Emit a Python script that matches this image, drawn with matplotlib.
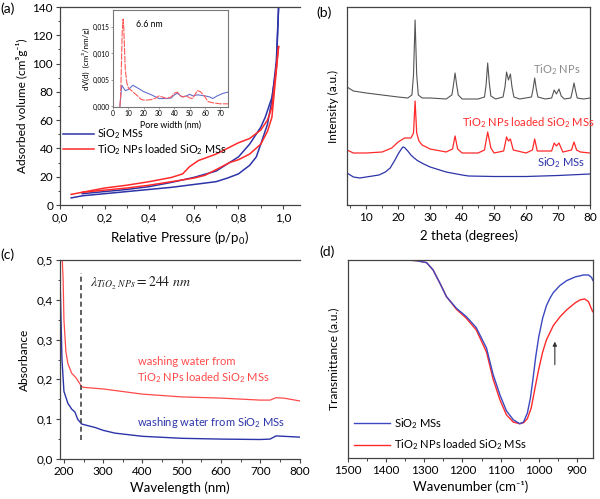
import matplotlib
matplotlib.use("Agg")
import matplotlib.pyplot as plt
from matplotlib.ticker import MultipleLocator, FuncFormatter

plt.rcParams['font.family'] = ['Lato', 'DejaVu Sans']
plt.rcParams['mathtext.fontset'] = 'custom'
plt.rcParams['mathtext.rm'] = 'Lato'
plt.rcParams['mathtext.it'] = 'Lato:italic'
plt.rcParams['mathtext.bf'] = 'Lato:bold'

# ---------------- data (a) ----------------
a_blue_ads_p = [0.05, 0.1, 0.2, 0.3, 0.4, 0.5, 0.6, 0.7, 0.75, 0.8, 0.85, 0.88, 0.9, 0.93, 0.95, 0.97, 0.98]
a_blue_ads_v = [5, 6.5, 8, 9.5, 11, 12.5, 14.5, 16.5, 19, 22, 28, 34, 43, 57, 74, 102, 140]
a_blue_des_p = [0.1, 0.2, 0.3, 0.4, 0.5, 0.6, 0.7, 0.8, 0.85, 0.9, 0.92, 0.95, 0.97, 0.98]
a_blue_des_v = [8, 9.5, 11, 13, 16, 19.5, 24, 34, 43, 55, 62, 76, 97, 140]
a_red_des_p = [0.05, 0.2, 0.3, 0.4, 0.5, 0.55, 0.58, 0.62, 0.7, 0.8, 0.85, 0.9, 0.93, 0.95, 0.965, 0.975, 0.98]
a_red_des_v = [7.5, 12, 14, 16.5, 19.5, 22, 27, 31.4, 36, 44, 47, 53, 60, 69, 90, 105, 112]
a_red_ads_p = [0.1, 0.2, 0.3, 0.4, 0.5, 0.6, 0.65, 0.7, 0.76, 0.8, 0.85, 0.9, 0.93, 0.95, 0.97, 0.98]
a_red_ads_v = [9, 10.5, 12, 14, 16.5, 19, 21, 25, 30, 32, 36, 43, 52, 62, 95, 112]

ins_red_x = [4.5, 5, 5.5, 6, 6.6, 7, 7.5, 8, 9, 10, 12, 14, 16, 18, 20, 22, 25, 28, 30, 32, 35, 38, 40, 42, 44, 46, 48, 50, 52, 55, 57, 60, 62, 65, 70, 75]
ins_red_y = [0, 0.002, 0.008, 0.014, 0.0165, 0.015, 0.011, 0.007, 0.0045, 0.0035, 0.003, 0.0025, 0.002, 0.0014, 0.0012, 0.0012, 0.0013, 0.0016, 0.002, 0.0018, 0.0015, 0.0018, 0.0025, 0.0027, 0.002, 0.0018, 0.002, 0.0016, 0.0015, 0.003, 0.0028, 0.0018, 0.0009, 0.0007, 0.0005, 0.0005]
ins_blue_x = [4.5, 5.7, 8, 10, 13, 16, 20, 25, 30, 35, 38, 40, 42, 45, 48, 50, 52, 55, 60, 63, 65, 68, 72, 75]
ins_blue_y = [0, 0.004, 0.003, 0.0032, 0.004, 0.0035, 0.0028, 0.0022, 0.0015, 0.0015, 0.0016, 0.0022, 0.0025, 0.0018, 0.002, 0.0023, 0.002, 0.0022, 0.002, 0.0018, 0.0015, 0.002, 0.0025, 0.0027]

# ---------------- data (b) ----------------
b_tio2_x = [4, 6, 10, 15, 20, 23, 24.3, 24.8, 25.3, 25.8, 26.3, 27.5, 30, 35, 36.8, 37.3, 37.8, 38.3, 38.8, 40, 45, 47, 47.5, 48.0, 48.5, 49, 50.5, 52.8, 53.4, 53.9, 54.5, 55.1, 55.6, 56.2, 58, 61.7, 62.2, 62.7, 63.2, 63.7, 66, 68, 68.8, 69.5, 70.3, 71, 72, 74, 74.5, 75, 75.5, 76, 78, 80]
b_tio2_y = [118, 114, 112, 110, 108, 107, 110, 130, 185, 130, 110, 107, 107, 106, 110, 120, 132, 120, 110, 106, 106, 108, 120, 142, 122, 109, 106, 108, 118, 133, 125, 131, 118, 108, 106, 108, 116, 127, 116, 108, 106, 107, 115, 111, 116, 109, 106, 107, 114, 122, 114, 107, 106, 107]
b_load_x = [4, 6, 10, 15, 18, 20, 22, 24, 24.8, 25.3, 25.8, 26.5, 27.5, 30, 35, 37, 37.8, 38.6, 40, 45, 47, 48, 49, 50, 53, 53.9, 54.5, 55.1, 56, 60, 62, 62.7, 63.5, 68, 68.8, 69.5, 70.3, 71.5, 74.2, 75, 75.8, 77, 80]
b_load_y = [55, 52, 52, 53, 57, 63, 67, 67, 72, 104, 72, 64, 60, 56, 53, 56, 69, 56, 52, 52, 55, 73, 57, 52, 54, 68, 64, 66, 55, 52, 55, 66, 54, 54, 62, 59, 62, 53, 55, 63, 55, 53, 52]
b_sio2_x = [4, 6, 8, 10, 14, 16, 17.5, 19, 20, 21, 21.5, 22, 23, 24, 25, 26, 28, 30, 35, 40, 42, 50, 60, 70, 80]
b_sio2_y = [32, 28, 27, 28, 30, 33, 37, 45, 51, 56, 58, 57.5, 54, 50, 47, 44.5, 41, 38, 33, 30, 29, 28.5, 28.5, 29.5, 31]

# ---------------- data (c) ----------------
c_red_x = [195, 198, 200, 205, 210, 220, 230, 240, 245, 250, 300, 400, 500, 600, 700, 725, 740, 760, 800]
c_red_y = [0.52, 0.45, 0.35, 0.27, 0.24, 0.215, 0.205, 0.19, 0.182, 0.18, 0.176, 0.163, 0.156, 0.153, 0.148, 0.148, 0.154, 0.153, 0.146]
c_blue_x = [190, 195, 200, 210, 220, 228, 235, 245, 260, 280, 300, 330, 400, 500, 600, 700, 725, 740, 760, 800]
c_blue_y = [0.46, 0.25, 0.17, 0.14, 0.125, 0.118, 0.1, 0.088, 0.084, 0.079, 0.072, 0.065, 0.057, 0.052, 0.05, 0.049, 0.05, 0.058, 0.057, 0.055]
c_lambda = 244

# ---------------- data (d) ----------------
d_blue_x = [1346, 1320, 1294, 1277, 1259, 1242, 1216, 1190, 1164, 1137, 1120, 1102, 1085, 1067, 1050, 1040, 1030, 1022, 1015, 1008, 1000, 990, 980, 970, 962, 945, 927, 905, 883, 870, 862, 858]
d_blue_y = [595, 593, 587, 565, 525, 485, 450, 425, 392, 330, 252, 190, 142, 115, 103, 108, 135, 180, 240, 305, 365, 420, 458, 482, 497, 518, 533, 544, 550, 550, 543, 533]
d_red_x = [1346, 1320, 1294, 1277, 1259, 1242, 1216, 1190, 1164, 1137, 1120, 1102, 1085, 1067, 1050, 1040, 1030, 1020, 1010, 1000, 990, 980, 962, 944, 927, 905, 892, 880, 870, 859]
d_red_y = [595, 593, 587, 565, 525, 485, 447, 420, 385, 318, 238, 175, 130, 108, 103, 106, 118, 150, 210, 268, 318, 355, 398, 425, 445, 466, 475, 478, 470, 440]

BLUE = '#2c34a8'
RED = '#ff2a2a'
TICK_FS = 8.5
XLAB_FS = 9.5
YLAB_FS = 8.6

fig = plt.figure(figsize=(6.0, 4.99), dpi=100)

def comma(fmt):
    return FuncFormatter(lambda v, p: (fmt % v).replace('.', ','))

def style(ax, fs=TICK_FS):
    for s in ax.spines.values():
        s.set_color('#444444')
        s.set_linewidth(0.9)
    ax.tick_params(which='major', direction='out', length=3, width=0.8, labelsize=fs,
                   color='#444444', pad=2)
    ax.tick_params(which='minor', direction='out', length=1.8, width=0.7, color='#444444')

# ---------- (a) ----------
axa = fig.add_axes([60/600, 1-205/499, 240/600, 198/499])
axa.plot(a_blue_ads_p, a_blue_ads_v, color=BLUE, lw=1.1)
axa.plot(a_blue_des_p, a_blue_des_v, color=BLUE, lw=1.1, label='SiO$_2$ MSs')
axa.plot(a_red_ads_p, a_red_ads_v, color=RED, lw=1.1)
axa.plot(a_red_des_p, a_red_des_v, color=RED, lw=1.1, label='TiO$_2$ NPs loaded SiO$_2$ MSs')
axa.set_xlim(0, 1.076)
axa.set_ylim(0, 140)
axa.spines['right'].set_visible(False)
axa.xaxis.set_major_locator(MultipleLocator(0.2))
axa.xaxis.set_minor_locator(MultipleLocator(0.1))
axa.yaxis.set_major_locator(MultipleLocator(20))
axa.yaxis.set_minor_locator(MultipleLocator(10))
axa.xaxis.set_major_formatter(comma('%.1f'))
style(axa)
axa.tick_params(right=False)
axa.set_xlabel('Relative Pressure (p/p$_0$)', fontsize=XLAB_FS, labelpad=5)
axa.set_ylabel('Adsorbed volume (cm³g⁻¹)', fontsize=YLAB_FS, labelpad=3)
axa.legend(loc='upper left', bbox_to_anchor=(-0.015, 0.43), frameon=False, fontsize=7.8,
           handlelength=2.9, handletextpad=0.25, borderaxespad=0.2, labelspacing=0.05)

# inset
axi = fig.add_axes([113/600, 1-107/499, 115/600, 97/499])
axi.plot(ins_blue_x, ins_blue_y, color='#5560c8', lw=0.8, alpha=0.9)
axi.plot(ins_red_x, ins_red_y, color='#ff5a5a', lw=0.8, dashes=(6, 1.0))
axi.set_xlim(0, 75)
axi.set_ylim(-0.0001, 0.0182)
axi.xaxis.set_major_locator(MultipleLocator(10))
axi.yaxis.set_major_locator(MultipleLocator(0.005))
axi.yaxis.set_major_formatter(comma('%.3f'))
for s in axi.spines.values():
    s.set_color('#777777')
    s.set_linewidth(0.8)
axi.tick_params(direction='out', length=1.5, width=0.5, labelsize=4.8, pad=1, color='#777777')
axi.set_xlabel('Pore width (nm)', fontsize=6.3, labelpad=2)
axi.set_ylabel('dV(d)  (cm³/nm/g)', fontsize=5.8, labelpad=2)
axi.text(15, 0.0155, '6.6 nm', fontsize=6.3, va='center', ha='left')

# ---------- (b) ----------
axb = fig.add_axes([347/600, 1-205/499, 243/600, 198/499])
axb.plot(b_tio2_x, b_tio2_y, color='#555555', lw=0.8)
axb.plot(b_load_x, b_load_y, color=RED, lw=0.9)
axb.plot(b_sio2_x, b_sio2_y, color=BLUE, lw=0.9)
axb.set_xlim(4, 80)
axb.set_ylim(0, 198)
axb.set_yticks([])
axb.xaxis.set_major_locator(MultipleLocator(10))
axb.xaxis.set_minor_locator(MultipleLocator(5))
style(axb)
axb.set_xlabel('2 theta (degrees)', fontsize=XLAB_FS, labelpad=5)
axb.set_ylabel('Intensity (a.u.)', fontsize=YLAB_FS, labelpad=6)
axb.text(62.1, 135, 'TiO$_2$ NPs', color='#8a8a8a', fontsize=8, ha='left', va='center')
axb.text(39.9, 82, 'TiO$_2$ NPs loaded SiO$_2$ MSs', color=RED, fontsize=8, ha='left', va='center')
axb.text(63.4, 42, 'SiO$_2$ MSs', color=BLUE, fontsize=8, ha='left', va='center')

# ---------- (c) ----------
axc = fig.add_axes([60/600, 1-459/499, 239.5/600, 199/499])
axc.plot(c_red_x, c_red_y, color='#ff4a4a', lw=0.9)
axc.plot(c_blue_x, c_blue_y, color=BLUE, lw=1.0)
axc.plot([c_lambda, c_lambda], [0.048, 0.467], color='#444444', lw=1.2, ls=(0, (3, 2)))
axc.set_xlim(190, 800)
axc.set_ylim(0, 0.5)
axc.spines['right'].set_visible(False)
axc.xaxis.set_major_locator(MultipleLocator(100))
axc.xaxis.set_minor_locator(MultipleLocator(50))
axc.yaxis.set_major_locator(MultipleLocator(0.1))
axc.yaxis.set_minor_locator(MultipleLocator(0.05))
axc.yaxis.set_major_formatter(comma('%.1f'))
style(axc)
axc.tick_params(right=False)
axc.set_xlabel('Wavelength (nm)', fontsize=XLAB_FS, labelpad=3)
axc.set_ylabel('Absorbance', fontsize=YLAB_FS, labelpad=5)
axc.text(266, 0.442, r'$\lambda_{TiO_2\ NPs} = 244\ nm$', fontsize=10, math_fontfamily='stix',
         ha='left', va='center', color='#222222')
axc.text(389, 0.244, 'washing water from', color='#ff4a4a', fontsize=8, ha='left', va='center')
axc.text(387, 0.2035, 'TiO$_2$ NPs loaded SiO$_2$ MSs', color='#ff4a4a', fontsize=8, ha='left', va='center')
axc.text(387, 0.0905, 'washing water from SiO$_2$ MSs', color=BLUE, fontsize=8, ha='left', va='center')

# ---------- (d) ----------
axd = fig.add_axes([348/600, 1-458/499, 245/600, 198/499])
axd.plot(d_red_x, d_red_y, color=RED, lw=1.0, label='TiO$_2$ NPs loaded SiO$_2$ MSs')
axd.plot(d_blue_x, d_blue_y, color='#3b48c0', lw=1.0, label='SiO$_2$ MSs')
axd.set_xlim(1500, 858)
axd.set_ylim(0, 595)
axd.set_yticks([])
axd.xaxis.set_major_locator(MultipleLocator(100))
axd.xaxis.set_minor_locator(MultipleLocator(50))
style(axd)
axd.set_xlabel('Wavenumber (cm⁻¹)', fontsize=XLAB_FS, labelpad=3)
axd.set_ylabel('Transmittance (a.u.)', fontsize=YLAB_FS, labelpad=6)
axd.annotate('', xy=(958, 358), xytext=(958, 272),
             arrowprops=dict(arrowstyle='-|>', color='#333333', lw=0.8, mutation_scale=6))
h, l = axd.get_legend_handles_labels()
axd.legend(h[::-1], l[::-1], loc='lower left', frameon=False, fontsize=8,
           handlelength=3.3, handletextpad=0.3, borderaxespad=0.2, borderpad=0.3,
           labelspacing=0.6)

# panel labels
fig.text(0/600, 1-9/499, '(a)', fontsize=10, va='center', ha='left')
fig.text(316/600, 1-13/499, '(b)', fontsize=10, va='center', ha='left')
fig.text(0/600, 1-255/499, '(c)', fontsize=10, va='center', ha='left')
fig.text(319/600, 1-252/499, '(d)', fontsize=10, va='center', ha='left')

fig.savefig('out.png', dpi=100)
